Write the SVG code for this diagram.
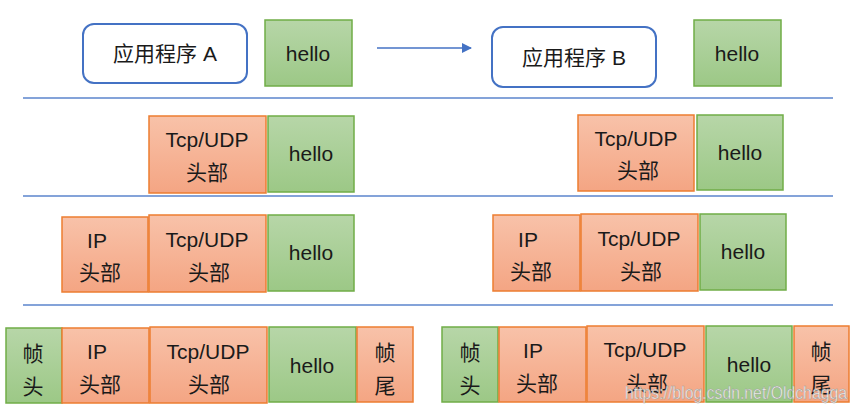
<svg xmlns="http://www.w3.org/2000/svg" width="858" height="412" viewBox="0 0 858 412">
<defs>
<linearGradient id="gG" x1="0" y1="0" x2="0" y2="1"><stop offset="0" stop-color="#b7d6a8"/><stop offset="1" stop-color="#9cc886"/></linearGradient>
<linearGradient id="gO" x1="0" y1="0" x2="0" y2="1"><stop offset="0" stop-color="#f8c2a9"/><stop offset="1" stop-color="#f4a583"/></linearGradient>
<marker id="ah" markerWidth="10" markerHeight="10" refX="9" refY="5" orient="auto" markerUnits="userSpaceOnUse"><path d="M0,0 L10,5 L0,10 Z" fill="#4472c4"/></marker>
</defs>
<style>
.g{fill:url(#gG);stroke:#70ad47;stroke-width:1.5}
.o{fill:url(#gO);stroke:#ed7d31;stroke-width:1.5}
.app{fill:#fff;stroke:#4472c4;stroke-width:2}
text{font-family:"Liberation Sans","Noto Sans CJK SC",sans-serif;font-size:21px;fill:#1a1a1a;text-anchor:middle}
.sep{stroke:#5b84cc;stroke-width:1.5}
.wm{font-size:19px;fill:#ffffff;fill-opacity:0.85;stroke:#9a9a9a;stroke-width:0.5;text-anchor:start}
</style>
<rect width="858" height="412" fill="#fff"/>
<g id="connectors">
<line class="sep" x1="23" y1="98" x2="833" y2="98"/>
<line class="sep" x1="23" y1="196" x2="833" y2="196"/>
<line class="sep" x1="23" y1="305" x2="833" y2="305"/>
<line x1="377" y1="48" x2="471" y2="48" stroke="#4472c4" stroke-width="1.5" marker-end="url(#ah)"/>
</g>
<g id="appA"><rect class="app" x="83" y="24" width="164" height="59" rx="11"/><text x="165" y="61">应用程序 A</text></g>
<g id="helloA1"><rect class="g" x="265" y="20" width="87" height="66"/><text x="308" y="61">hello</text></g>
<g id="appB"><rect class="app" x="492" y="27" width="164" height="60" rx="11"/><text x="574" y="65">应用程序 B</text></g>
<g id="helloB1"><rect class="g" x="694" y="20" width="87" height="66"/><text x="737" y="61">hello</text></g>

<g id="tcpA2"><rect class="o" x="149" y="116" width="117" height="77"/><text x="207" y="147">Tcp/UDP</text><text x="207" y="180">头部</text></g>
<g id="helloA2"><rect class="g" x="268" y="116" width="86" height="76"/><text x="311" y="161">hello</text></g>
<g id="tcpB2"><rect class="o" x="578" y="115" width="116" height="76"/><text x="636" y="146">Tcp/UDP</text><text x="638" y="178">头部</text></g>
<g id="helloB2"><rect class="g" x="697" y="115" width="86" height="75"/><text x="740" y="160">hello</text></g>

<g id="ipA3"><rect class="o" x="62" y="217" width="86" height="75"/><text x="97" y="248">IP</text><text x="100" y="280">头部</text></g>
<g id="tcpA3"><rect class="o" x="149" y="215" width="117" height="77"/><text x="207" y="247">Tcp/UDP</text><text x="209" y="280">头部</text></g>
<g id="helloA3"><rect class="g" x="268" y="215" width="86" height="76"/><text x="311" y="260">hello</text></g>
<g id="ipB3"><rect class="o" x="493" y="215" width="87" height="76"/><text x="528" y="247">IP</text><text x="531" y="279">头部</text></g>
<g id="tcpB3"><rect class="o" x="581" y="214" width="117" height="77"/><text x="639" y="246">Tcp/UDP</text><text x="641" y="279">头部</text></g>
<g id="helloB3"><rect class="g" x="700" y="214" width="86" height="76"/><text x="743" y="259">hello</text></g>

<g id="fhA"><rect class="g" x="6" y="328" width="56" height="75"/><text x="33" y="361">帧</text><text x="33" y="394">头</text></g>
<g id="ipA4"><rect class="o" x="62" y="328" width="87" height="75"/><text x="97" y="359">IP</text><text x="100" y="392">头部</text></g>
<g id="tcpA4"><rect class="o" x="150" y="327" width="117" height="76"/><text x="208" y="359">Tcp/UDP</text><text x="209" y="392">头部</text></g>
<g id="helloA4"><rect class="g" x="269" y="327" width="87" height="75"/><text x="312" y="373">hello</text></g>
<g id="ftA"><rect class="o" x="357" y="327" width="56" height="75"/><text x="385" y="360">帧</text><text x="385" y="393">尾</text></g>

<g id="fhB"><rect class="g" x="442" y="327" width="56" height="75"/><text x="470" y="360">帧</text><text x="470" y="393">头</text></g>
<g id="ipB4"><rect class="o" x="499" y="327" width="87" height="75"/><text x="533" y="358">IP</text><text x="537" y="391">头部</text></g>
<g id="tcpB4"><rect class="o" x="587" y="326" width="117" height="76"/><text x="645" y="357">Tcp/UDP</text><text x="647" y="391">头部</text></g>
<g id="helloB4"><rect class="g" x="706" y="326" width="86" height="76"/><text x="749" y="372">hello</text></g>
<g id="ftB"><rect class="o" x="794" y="326" width="55" height="76"/><text x="821" y="359">帧</text><text x="821" y="392">尾</text></g>

<text class="wm" x="625" y="399" textLength="222" lengthAdjust="spacingAndGlyphs">https://blog.csdn.net/Oldchagga</text>
</svg>
